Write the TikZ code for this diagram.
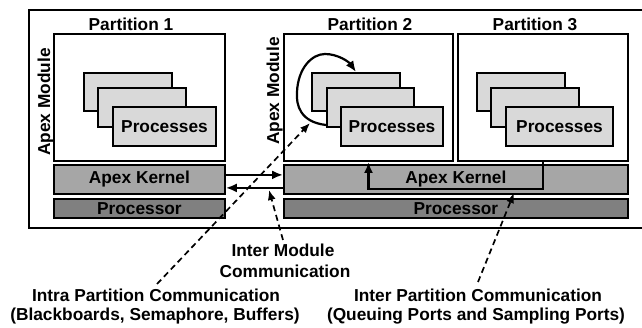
\documentclass[tikz,border=0pt]{standalone}
\usepackage{fontspec}
\setmainfont{Liberation Sans}
\usetikzlibrary{arrows.meta}
\definecolor{cardgray}{HTML}{D9D9D9}
\definecolor{kernelgray}{HTML}{A6A6A6}
\definecolor{procgray}{HTML}{808080}
\begin{document}
\begin{tikzpicture}[x=1pt,y=-1pt,
  lbl/.style={font=\bfseries\fontsize{17.3}{20}\selectfont, inner sep=0pt},
  box/.style={draw, line width=2pt, fill=white, anchor=north west, inner sep=0pt},
  card/.style={draw, line width=2pt, fill=cardgray, anchor=north west, inner sep=0pt,
               font=\bfseries\fontsize{17.3}{20}\selectfont},
  kbar/.style={draw, line width=1.8pt, fill=kernelgray, anchor=north west, inner sep=0pt,
               font=\bfseries\fontsize{17.3}{20}\selectfont},
  pbar/.style={draw, line width=1.8pt, fill=procgray, anchor=north west, inner sep=0pt,
               font=\bfseries\fontsize{17.3}{20}\selectfont},
  flow/.style={line width=2.2pt, -{Latex[length=11pt,width=9pt]}},
  hint/.style={line width=1.7pt, dash pattern=on 6pt off 4pt, -{Latex[length=10pt,width=8pt]}}]
\useasboundingbox (0,0) rectangle (642,328);

% outer module frame (open to the right)
\draw[line width=2pt] (660,10) -| (29,228) -- (660,228);

% partitions
\node[box, minimum width=171pt, minimum height=127pt] (p1) at (53,33) {};
\node[box, minimum width=169pt, minimum height=127pt] (p2) at (283,33) {};
\node[box, minimum width=170pt, minimum height=127pt] (p3) at (457,33) {};

\node[lbl, anchor=base] (p1t) at (131,31) {Partition 1};
\node[lbl, anchor=base] (p2t) at (370,31) {Partition 2};
\node[lbl, anchor=base] (p3t) at (535,31) {Partition 3};

\node[lbl, rotate=90, anchor=base] (am1) at (50,102) {Apex Module};
\node[lbl, rotate=90, anchor=base] (am2) at (279,91) {Apex Module};

% process stacks
\node[card, minimum width=88pt, minimum height=38pt] (c11) at (83,72) {};
\node[card, minimum width=88pt, minimum height=39pt] (c12) at (97,87) {};
\node[card, minimum width=103pt, minimum height=39pt] (c13) at (112,106) {Processes};

\node[card, minimum width=88pt, minimum height=38pt] (c21) at (311,72) {};
\node[card, minimum width=87pt, minimum height=39pt] (c22) at (326,87) {};
\node[card, minimum width=102pt, minimum height=39pt] (c23) at (340,106) {Processes};

\node[card, minimum width=88pt, minimum height=38pt] (c31) at (476,72) {};
\node[card, minimum width=88pt, minimum height=39pt] (c32) at (490,87) {};
\node[card, minimum width=107pt, minimum height=39pt] (c33) at (505,106) {Processes};

% kernel and processor layers
\node[kbar, minimum width=171pt, minimum height=29pt] (k1) at (53,164) {Apex Kernel};
\node[kbar, minimum width=344pt, minimum height=29pt] (k2) at (283,164) {Apex Kernel};
\node[pbar, minimum width=171pt, minimum height=19pt] (h1) at (53,198) {Processor};
\node[pbar, minimum width=344pt, minimum height=19pt] (h2) at (283,198) {Processor};

% inter module links
\draw[flow] ([yshift=4.5pt]k1.east) -- ([yshift=4.5pt]k2.west);
\draw[flow] ([yshift=-8.5pt]k2.west) -- ([yshift=-8.5pt]k1.east);

% inter partition link through the kernel
\draw[flow] (p3.south) -- ++(0,27) -| (p2.south);

% intra partition loop
\draw[flow] ([yshift=-17.5pt]c22.west) .. controls (300,122) and (296,105) .. (297,92)
  .. controls (298,68) and (312,54) .. (325,54)
  .. controls (338,54) and (349,62) .. (c21.north);

% captions
\node[lbl, anchor=base] (im1) at (283,257) {Inter Module};
\node[lbl, anchor=base] (im2) at (285,278) {Communication};
\node[lbl, anchor=base] (ia1) at (156,302) {Intra Partition Communication};
\node[lbl, anchor=base] (ia2) at (155,321) {(Blackboards, Semaphore, Buffers)};
\node[lbl, anchor=base] (ie1) at (478,302) {Inter Partition Communication};
\node[lbl, anchor=base] (ie2) at (476,321) {(Queuing Ports and Sampling Ports)};

% dashed pointers from captions
\coordinate (iaS) at (157,284);
\coordinate (iaE) at (310,123);
\coordinate (imS) at (283,240);
\coordinate (imE) at (269,190);
\coordinate (ieS) at (478,282);
\coordinate (ieE) at (514,193);
\draw[hint] (iaS) -- (iaE);
\draw[hint] (imS) -- (imE);
\draw[hint] (ieS) -- (ieE);
\end{tikzpicture}
\end{document}
